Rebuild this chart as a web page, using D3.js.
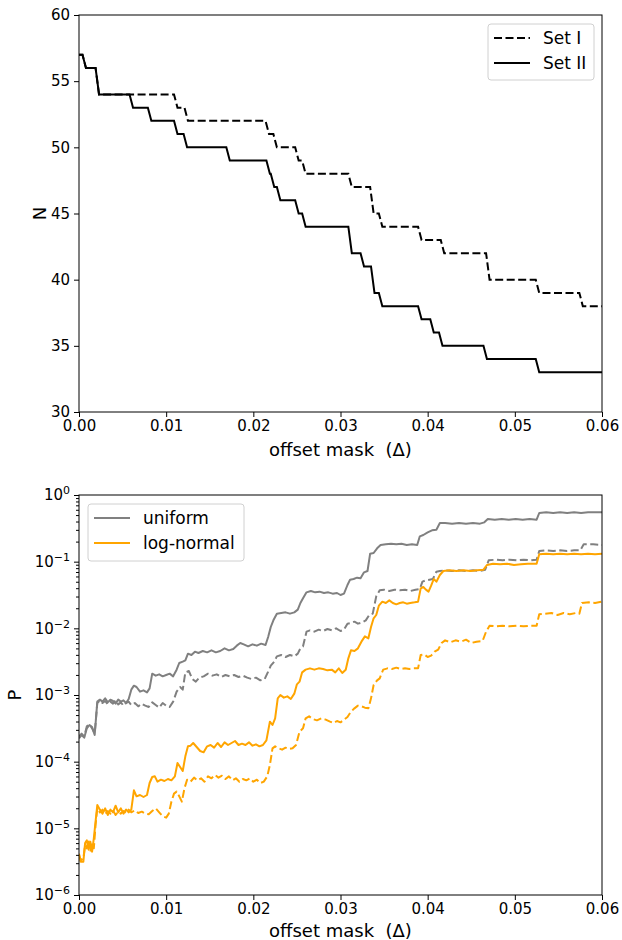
<!DOCTYPE html>
<html>
<head>
<meta charset="utf-8">
<script src="https://cdn.jsdelivr.net/npm/d3@7"></script>
<style>
body { margin: 0; background: #fff; }
svg text { font-family: "DejaVu Sans", sans-serif; fill: #000; }
.tick text { font-size: 15px; }
.xlabel { white-space: pre; }
</style>
</head>
<body>
<div id="chart"></div>
<script>
// ---- data ----
var xTicks = [0, 0.01, 0.02, 0.03, 0.04, 0.05, 0.06];
var nTicks = [30, 35, 40, 45, 50, 55, 60];
var pTicks = [1e-6, 1e-5, 1e-4, 1e-3, 1e-2, 1e-1, 1];

// top panel: [offset where the level starts, N]
var setI = [[0, 57], [0.0008, 56], [0.0023, 54], [0.0113, 53], [0.0125, 52], [0.0218, 51], [0.0227, 50],
    [0.0252, 49], [0.0260, 48], [0.0313, 47], [0.0338, 45], [0.0348, 44], [0.0393, 43], [0.0419, 42],
    [0.0471, 40], [0.0528, 39], [0.0578, 38]];
var setII = [[0, 57], [0.0008, 56], [0.0023, 54], [0.0062, 53], [0.0083, 52], [0.0113, 51], [0.0124, 50],
    [0.0173, 49], [0.0219, 48], [0.0224, 47], [0.0231, 46], [0.0252, 45], [0.0260, 44], [0.0313, 42],
    [0.0327, 41], [0.0339, 39], [0.0348, 38], [0.0393, 37], [0.0407, 36], [0.0417, 35], [0.0468, 34],
    [0.0528, 33]];

// bottom panel: [offset, log10 P]
var uniformII = [[0.0000,-3.65],[0.0003,-3.60],[0.0006,-3.64],[0.0009,-3.50],[0.0012,-3.45],[0.0015,-3.48],[0.0018,-3.60],[0.0021,-3.10],[0.0024,-3.07],[0.0027,-3.10],[0.0030,-3.05],[0.0033,-3.11],[0.0036,-3.07],[0.0039,-3.09],[0.0042,-3.13],[0.0045,-3.07],[0.0048,-3.10],[0.0051,-3.08],[0.0054,-3.12],[0.0057,-3.06],[0.0060,-2.92],[0.0063,-2.86],[0.0066,-2.88],[0.0070,-2.95],[0.0074,-2.93],[0.0078,-2.96],[0.0081,-2.90],[0.0084,-2.68],[0.0088,-2.71],[0.0092,-2.69],[0.0096,-2.72],[0.0100,-2.70],[0.0104,-2.68],[0.0108,-2.72],[0.0112,-2.62],[0.0115,-2.52],[0.0119,-2.50],[0.0122,-2.48],[0.0125,-2.38],[0.0129,-2.40],[0.0133,-2.35],[0.0137,-2.37],[0.0142,-2.34],[0.0147,-2.36],[0.0152,-2.33],[0.0157,-2.36],[0.0162,-2.34],[0.0167,-2.30],[0.0172,-2.33],[0.0177,-2.31],[0.0181,-2.26],[0.0185,-2.22],[0.0189,-2.24],[0.0194,-2.27],[0.0199,-2.24],[0.0204,-2.26],[0.0209,-2.23],[0.0214,-2.25],[0.0217,-2.13],[0.0220,-1.98],[0.0223,-1.88],[0.0227,-1.78],[0.0232,-1.77],[0.0237,-1.76],[0.0242,-1.78],[0.0247,-1.76],[0.0251,-1.72],[0.0254,-1.62],[0.0257,-1.55],[0.0261,-1.46],[0.0266,-1.44],[0.0271,-1.46],[0.0276,-1.45],[0.0281,-1.47],[0.0286,-1.46],[0.0291,-1.48],[0.0296,-1.47],[0.0300,-1.50],[0.0304,-1.48],[0.0308,-1.35],[0.0311,-1.27],[0.0315,-1.26],[0.0319,-1.24],[0.0323,-1.25],[0.0327,-1.16],[0.0331,-1.14],[0.0334,-0.88],[0.0338,-0.87],[0.0342,-0.80],[0.0346,-0.75],[0.0352,-0.74],[0.0358,-0.73],[0.0364,-0.74],[0.0370,-0.73],[0.0376,-0.75],[0.0382,-0.74],[0.0388,-0.75],[0.0391,-0.62],[0.0395,-0.60],[0.0400,-0.56],[0.0405,-0.53],[0.0410,-0.52],[0.0414,-0.42],[0.0420,-0.42],[0.0428,-0.43],[0.0436,-0.42],[0.0444,-0.43],[0.0452,-0.42],[0.0460,-0.43],[0.0465,-0.41],[0.0469,-0.36],[0.0477,-0.37],[0.0485,-0.36],[0.0493,-0.37],[0.0501,-0.36],[0.0509,-0.37],[0.0517,-0.36],[0.0525,-0.37],[0.0528,-0.27],[0.0536,-0.26],[0.0544,-0.27],[0.0552,-0.26],[0.0560,-0.27],[0.0568,-0.26],[0.0576,-0.27],[0.0584,-0.26],[0.0592,-0.26],[0.0600,-0.26]];

var uniformI = [[0.0000,-3.62],[0.0003,-3.58],[0.0006,-3.62],[0.0009,-3.47],[0.0012,-3.44],[0.0015,-3.50],[0.0018,-3.58],[0.0021,-3.12],[0.0024,-3.08],[0.0027,-3.12],[0.0030,-3.09],[0.0033,-3.14],[0.0036,-3.10],[0.0039,-3.13],[0.0042,-3.08],[0.0045,-3.14],[0.0048,-3.11],[0.0051,-3.16],[0.0054,-3.12],[0.0057,-3.10],[0.0060,-3.15],[0.0064,-3.12],[0.0068,-3.17],[0.0072,-3.13],[0.0076,-3.16],[0.0080,-3.18],[0.0084,-3.11],[0.0088,-3.15],[0.0092,-3.19],[0.0096,-3.12],[0.0100,-3.16],[0.0104,-3.18],[0.0108,-3.10],[0.0112,-2.95],[0.0116,-2.88],[0.0119,-2.92],[0.0122,-2.66],[0.0126,-2.64],[0.0130,-2.76],[0.0134,-2.80],[0.0138,-2.74],[0.0143,-2.72],[0.0148,-2.68],[0.0153,-2.71],[0.0158,-2.69],[0.0163,-2.73],[0.0168,-2.70],[0.0173,-2.72],[0.0178,-2.70],[0.0183,-2.73],[0.0188,-2.71],[0.0193,-2.74],[0.0198,-2.76],[0.0203,-2.74],[0.0208,-2.78],[0.0213,-2.76],[0.0217,-2.65],[0.0220,-2.56],[0.0224,-2.50],[0.0227,-2.42],[0.0232,-2.40],[0.0237,-2.43],[0.0242,-2.40],[0.0247,-2.42],[0.0251,-2.38],[0.0254,-2.30],[0.0257,-2.27],[0.0261,-2.05],[0.0265,-2.03],[0.0270,-2.05],[0.0275,-2.02],[0.0280,-2.04],[0.0285,-2.01],[0.0290,-2.03],[0.0295,-2.00],[0.0300,-2.04],[0.0304,-2.02],[0.0308,-1.93],[0.0312,-1.92],[0.0316,-1.90],[0.0320,-1.93],[0.0325,-1.91],[0.0329,-1.88],[0.0333,-1.80],[0.0337,-1.78],[0.0341,-1.52],[0.0345,-1.43],[0.0350,-1.42],[0.0356,-1.44],[0.0362,-1.42],[0.0368,-1.43],[0.0374,-1.42],[0.0380,-1.44],[0.0386,-1.42],[0.0391,-1.41],[0.0394,-1.30],[0.0398,-1.28],[0.0402,-1.27],[0.0406,-1.26],[0.0410,-1.15],[0.0414,-1.14],[0.0420,-1.13],[0.0428,-1.14],[0.0436,-1.13],[0.0444,-1.14],[0.0452,-1.13],[0.0460,-1.14],[0.0466,-1.12],[0.0470,-0.98],[0.0478,-0.97],[0.0486,-0.98],[0.0494,-0.97],[0.0502,-0.98],[0.0510,-0.97],[0.0518,-0.98],[0.0525,-0.97],[0.0528,-0.84],[0.0536,-0.83],[0.0544,-0.84],[0.0552,-0.83],[0.0560,-0.84],[0.0568,-0.83],[0.0575,-0.83],[0.0579,-0.74],[0.0590,-0.74],[0.0600,-0.75]];

var lognormII = [[0.0000,-5.38],[0.0002,-5.50],[0.0005,-5.50],[0.0007,-5.22],[0.0009,-5.18],[0.0011,-5.32],[0.0013,-5.20],[0.0015,-5.35],[0.0017,-5.15],[0.0019,-4.90],[0.0021,-4.65],[0.0024,-4.72],[0.0027,-4.78],[0.0030,-4.70],[0.0033,-4.80],[0.0036,-4.72],[0.0039,-4.76],[0.0042,-4.66],[0.0045,-4.76],[0.0048,-4.70],[0.0051,-4.78],[0.0054,-4.72],[0.0057,-4.76],[0.0060,-4.72],[0.0063,-4.43],[0.0066,-4.52],[0.0070,-4.50],[0.0074,-4.53],[0.0078,-4.50],[0.0081,-4.32],[0.0084,-4.23],[0.0087,-4.22],[0.0090,-4.30],[0.0094,-4.27],[0.0098,-4.29],[0.0102,-4.26],[0.0106,-4.28],[0.0110,-4.22],[0.0113,-4.02],[0.0116,-4.08],[0.0119,-4.14],[0.0122,-3.92],[0.0125,-3.77],[0.0128,-3.76],[0.0131,-3.72],[0.0135,-3.78],[0.0139,-3.84],[0.0143,-3.86],[0.0147,-3.77],[0.0151,-3.75],[0.0155,-3.79],[0.0159,-3.72],[0.0163,-3.78],[0.0167,-3.71],[0.0171,-3.75],[0.0175,-3.72],[0.0179,-3.69],[0.0183,-3.75],[0.0187,-3.73],[0.0191,-3.75],[0.0195,-3.71],[0.0199,-3.76],[0.0203,-3.74],[0.0207,-3.77],[0.0211,-3.75],[0.0215,-3.68],[0.0219,-3.40],[0.0222,-3.45],[0.0225,-3.35],[0.0228,-3.05],[0.0231,-3.00],[0.0235,-3.04],[0.0239,-3.02],[0.0243,-3.06],[0.0247,-2.98],[0.0250,-2.84],[0.0253,-2.80],[0.0256,-2.66],[0.0260,-2.62],[0.0265,-2.60],[0.0270,-2.62],[0.0275,-2.60],[0.0280,-2.61],[0.0285,-2.63],[0.0290,-2.62],[0.0294,-2.66],[0.0298,-2.60],[0.0302,-2.67],[0.0306,-2.62],[0.0309,-2.45],[0.0312,-2.33],[0.0316,-2.34],[0.0320,-2.30],[0.0324,-2.20],[0.0328,-2.12],[0.0332,-2.15],[0.0335,-1.98],[0.0338,-1.85],[0.0341,-1.80],[0.0344,-1.66],[0.0348,-1.60],[0.0352,-1.62],[0.0356,-1.58],[0.0360,-1.62],[0.0364,-1.64],[0.0368,-1.62],[0.0372,-1.61],[0.0376,-1.63],[0.0380,-1.62],[0.0385,-1.61],[0.0389,-1.60],[0.0392,-1.40],[0.0395,-1.38],[0.0398,-1.42],[0.0401,-1.45],[0.0404,-1.36],[0.0407,-1.26],[0.0410,-1.30],[0.0414,-1.20],[0.0418,-1.14],[0.0425,-1.13],[0.0433,-1.14],[0.0441,-1.13],[0.0449,-1.14],[0.0457,-1.13],[0.0464,-1.12],[0.0468,-1.05],[0.0475,-1.03],[0.0483,-1.04],[0.0491,-1.03],[0.0499,-1.05],[0.0507,-1.04],[0.0515,-1.03],[0.0525,-1.03],[0.0528,-0.89],[0.0536,-0.88],[0.0544,-0.89],[0.0552,-0.88],[0.0560,-0.89],[0.0568,-0.88],[0.0576,-0.89],[0.0584,-0.88],[0.0592,-0.89],[0.0600,-0.88]];

var lognormI = [[0.0000,-5.40],[0.0002,-5.48],[0.0005,-5.45],[0.0007,-5.25],[0.0009,-5.30],[0.0011,-5.18],[0.0013,-5.35],[0.0015,-5.22],[0.0017,-5.30],[0.0019,-4.95],[0.0021,-4.70],[0.0024,-4.76],[0.0027,-4.72],[0.0030,-4.79],[0.0033,-4.74],[0.0036,-4.78],[0.0039,-4.73],[0.0042,-4.80],[0.0045,-4.75],[0.0048,-4.78],[0.0051,-4.74],[0.0054,-4.77],[0.0057,-4.72],[0.0060,-4.76],[0.0064,-4.73],[0.0068,-4.77],[0.0072,-4.75],[0.0076,-4.78],[0.0080,-4.79],[0.0084,-4.74],[0.0088,-4.70],[0.0092,-4.76],[0.0096,-4.82],[0.0100,-4.84],[0.0103,-4.78],[0.0106,-4.60],[0.0109,-4.48],[0.0112,-4.45],[0.0115,-4.52],[0.0118,-4.60],[0.0121,-4.40],[0.0124,-4.27],[0.0128,-4.30],[0.0132,-4.24],[0.0136,-4.28],[0.0140,-4.25],[0.0144,-4.30],[0.0148,-4.22],[0.0152,-4.25],[0.0156,-4.20],[0.0160,-4.24],[0.0164,-4.21],[0.0168,-4.26],[0.0172,-4.22],[0.0176,-4.28],[0.0180,-4.25],[0.0184,-4.30],[0.0188,-4.26],[0.0192,-4.28],[0.0196,-4.25],[0.0200,-4.30],[0.0204,-4.27],[0.0208,-4.32],[0.0212,-4.30],[0.0216,-4.22],[0.0219,-4.05],[0.0222,-3.80],[0.0225,-3.77],[0.0229,-3.80],[0.0233,-3.82],[0.0237,-3.79],[0.0241,-3.81],[0.0245,-3.80],[0.0249,-3.75],[0.0253,-3.55],[0.0257,-3.50],[0.0260,-3.35],[0.0264,-3.32],[0.0268,-3.36],[0.0273,-3.38],[0.0278,-3.35],[0.0283,-3.37],[0.0288,-3.40],[0.0292,-3.42],[0.0296,-3.39],[0.0300,-3.41],[0.0304,-3.37],[0.0308,-3.33],[0.0312,-3.25],[0.0316,-3.20],[0.0320,-3.16],[0.0324,-3.17],[0.0328,-3.19],[0.0332,-3.20],[0.0335,-3.05],[0.0338,-2.85],[0.0342,-2.78],[0.0345,-2.75],[0.0349,-2.62],[0.0354,-2.60],[0.0359,-2.61],[0.0364,-2.59],[0.0369,-2.61],[0.0374,-2.60],[0.0379,-2.61],[0.0384,-2.60],[0.0389,-2.60],[0.0392,-2.40],[0.0396,-2.39],[0.0400,-2.43],[0.0404,-2.41],[0.0408,-2.35],[0.0412,-2.32],[0.0416,-2.22],[0.0420,-2.18],[0.0426,-2.21],[0.0432,-2.18],[0.0438,-2.20],[0.0444,-2.17],[0.0450,-2.22],[0.0456,-2.20],[0.0463,-2.19],[0.0467,-2.05],[0.0471,-1.96],[0.0478,-1.97],[0.0486,-1.96],[0.0494,-1.97],[0.0502,-1.96],[0.0510,-1.97],[0.0518,-1.96],[0.0525,-1.96],[0.0528,-1.79],[0.0535,-1.78],[0.0542,-1.77],[0.0549,-1.80],[0.0556,-1.77],[0.0563,-1.79],[0.0570,-1.77],[0.0574,-1.78],[0.0577,-1.62],[0.0585,-1.61],[0.0592,-1.62],[0.0600,-1.60]];

// ---- layout ----
var W = 622, H = 940;
var left = 79, w = 523;
var top1 = 15, h1 = 397;
var top2 = 495, h2 = 400;
var ramp = 0.0004; // width of a drop in the step lines
var dash = "8,3.5";

var svg = d3.select('#chart')
    .append('svg')
    .attr('width', W)
    .attr('height', H);

// ---- helpers ----
function styleAxis(g) {
    g.select('.domain').remove();
    g.attr('font-family', null).attr('font-size', null).attr('color', '#000');
    g.selectAll('.tick line').attr('stroke-width', 1);
}

function frame(g, h) {
    g.append('rect')
        .attr('width', w)
        .attr('height', h)
        .attr('fill', 'none')
        .attr('stroke', '#000')
        .attr('stroke-width', 1);
}

function legend(g, lx, ly, lw, lh, items) {
    var lg = g.append('g').attr('transform', `translate(${lx},${ly})`);
    lg.append('rect')
        .attr('width', lw)
        .attr('height', lh)
        .attr('rx', 3)
        .attr('fill', '#fff')
        .attr('fill-opacity', 0.8)
        .attr('stroke', '#d0d0d0');
    items.forEach(function (it, i) {
        var cy = 14 + i * 25;
        lg.append('line')
            .attr('x1', 6).attr('x2', 42)
            .attr('y1', cy).attr('y2', cy)
            .attr('stroke', it.color)
            .attr('stroke-width', 2)
            .attr('stroke-dasharray', it.dash);
        lg.append('text')
            .attr('x', 55)
            .attr('y', cy + 6)
            .style('font-size', '17px')
            .text(it.label);
    });
}

function stepPoints(steps) {
    var pts = [];
    steps.forEach(function (s, i) {
        if (i > 0) pts.push([s[0] - ramp, steps[i - 1][1]]);
        pts.push(s);
    });
    pts.push([0.06, steps[steps.length - 1][1]]);
    return pts;
}

// ---- top panel ----
var g1 = svg.append('g').attr('transform', `translate(${left},${top1})`);

var x1 = d3.scaleLinear().domain([0, 0.06]).range([0, w]);
var y1 = d3.scaleLinear().domain([30, 60]).range([h1, 0]);

g1.append('g')
    .attr('transform', `translate(0,${h1})`)
    .call(d3.axisBottom(x1).tickValues(xTicks).tickFormat(d3.format('.2f')).tickSize(5).tickPadding(3).tickSizeOuter(0))
    .call(styleAxis);

g1.append('g')
    .call(d3.axisLeft(y1).tickValues(nTicks).tickFormat(d3.format('d')).tickSize(5).tickPadding(4).tickSizeOuter(0))
    .call(styleAxis);

var line1 = d3.line()
    .x(function (d) { return x1(d[0]); })
    .y(function (d) { return y1(d[1]); });

g1.append('path')
    .datum(stepPoints(setI))
    .attr('fill', 'none')
    .attr('stroke', '#000')
    .attr('stroke-width', 2)
    .attr('stroke-dasharray', dash)
    .attr('d', line1);

g1.append('path')
    .datum(stepPoints(setII))
    .attr('fill', 'none')
    .attr('stroke', '#000')
    .attr('stroke-width', 2)
    .attr('d', line1);

frame(g1, h1);

g1.append('text')
    .attr('class', 'xlabel')
    .attr('x', w / 2)
    .attr('y', h1 + 44)
    .attr('text-anchor', 'middle')
    .style('font-size', '18px')
    .text('offset mask  (Δ)');

g1.append('text')
    .attr('transform', `translate(${-33},${h1 / 2}) rotate(-90)`)
    .attr('text-anchor', 'middle')
    .style('font-size', '18px')
    .text('N');

legend(g1, 409, 9, 106, 56, [
    { label: 'Set I', color: '#000', dash: dash },
    { label: 'Set II', color: '#000', dash: null }
]);

// ---- bottom panel ----
var g2 = svg.append('g').attr('transform', `translate(${left},${top2})`);

var x2 = d3.scaleLinear().domain([0, 0.06]).range([0, w]);
var y2 = d3.scaleLog().domain([1e-6, 1]).range([h2, 0]);

g2.append('g')
    .attr('transform', `translate(0,${h2})`)
    .call(d3.axisBottom(x2).tickValues(xTicks).tickFormat(d3.format('.2f')).tickSize(5).tickPadding(3).tickSizeOuter(0))
    .call(styleAxis);

var minor = [];
pTicks.slice(0, -1).forEach(function (p) {
    for (var k = 2; k < 10; k++) minor.push(p * k);
});

g2.append('g')
    .call(d3.axisLeft(y2).tickValues(minor).tickFormat('').tickSize(3).tickSizeOuter(0))
    .call(styleAxis);

var yAxis2 = g2.append('g')
    .call(d3.axisLeft(y2).tickValues(pTicks).tickFormat('').tickSize(5).tickPadding(4).tickSizeOuter(0))
    .call(styleAxis);

yAxis2.selectAll('.tick text')
    .each(function (d) {
        var t = d3.select(this);
        var e = Math.round(Math.log10(d));
        t.append('tspan').text('10');
        t.append('tspan')
            .attr('dy', '-0.55em')
            .style('font-size', '11px')
            .text(e < 0 ? '\u2212' + (-e) : String(e));
    });

g2.append('clipPath')
    .attr('id', 'clip2')
    .append('rect')
    .attr('width', w)
    .attr('height', h2);

var line2 = d3.line()
    .x(function (d) { return x2(d[0]); })
    .y(function (d) { return y2(Math.pow(10, d[1])); });

var series = [
    { data: uniformII, color: 'gray', dash: null },
    { data: uniformI, color: 'gray', dash: dash },
    { data: lognormII, color: 'orange', dash: null },
    { data: lognormI, color: 'orange', dash: dash }
];

g2.append('g')
    .attr('clip-path', 'url(#clip2)')
    .selectAll('path')
    .data(series)
    .enter()
    .append('path')
    .attr('fill', 'none')
    .attr('stroke', function (d) { return d.color; })
    .attr('stroke-width', 2)
    .attr('stroke-linejoin', 'round')
    .attr('stroke-dasharray', function (d) { return d.dash; })
    .attr('d', function (d) { return line2(d.data); });

frame(g2, h2);

g2.append('text')
    .attr('class', 'xlabel')
    .attr('x', w / 2)
    .attr('y', h2 + 42)
    .attr('text-anchor', 'middle')
    .style('font-size', '18px')
    .text('offset mask  (Δ)');

g2.append('text')
    .attr('transform', `translate(${-58},${h2 / 2}) rotate(-90)`)
    .attr('text-anchor', 'middle')
    .style('font-size', '18px')
    .text('P');

legend(g2, 9, 9, 156, 57, [
    { label: 'uniform', color: 'gray', dash: null },
    { label: 'log-normal', color: 'orange', dash: null }
]);
</script>
</body>
</html>
